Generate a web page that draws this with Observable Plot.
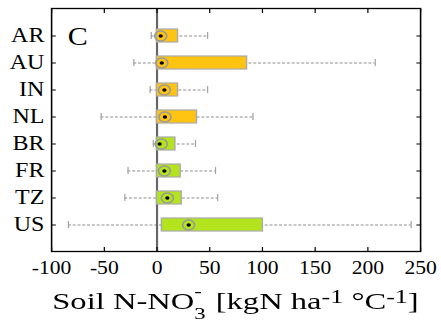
<!DOCTYPE html>
<html><head><meta charset="utf-8">
<script src="https://cdn.jsdelivr.net/npm/d3@7"></script>
<script src="https://cdn.jsdelivr.net/npm/@observablehq/plot@0.6"></script>
<style>
body{margin:0;background:#fff;}
#wrap{width:367.5px;transform:scaleX(1.2);transform-origin:0 0;font-family:"Liberation Serif","Times New Roman",serif;background:#fff;}
#wrap svg{display:block;}
#title{font-size:23px;line-height:23px;height:33px;margin-top:5px;margin-left:25px;text-align:center;white-space:nowrap;color:#000;transform:scaleX(1.18);transform-origin:50% 50%;}
#title .s{position:relative;font-size:0.8em;line-height:0;}
</style></head>
<body><div id="wrap"></div>
<script>
// ---- data ----
const countries = ["AR","AU","IN","NL","BR","FR","TZ","US"];
const groups    = ["a","a","a","a","b","b","b","b"];
const boxLo     = [0, 0, 0, 0, 0, 0, 0, 4.7];
const boxHi     = [20, 85.5, 20, 38, 17.5, 22.5, 23.5, 100.5];
const whiskLo   = [-5.5, -22, -6.5, -53, -3.5, -27.5, -30.5, -84];
const whiskHi   = [48, 207, 48, 91, 36.5, 55.5, 57.5, 241];
const medians   = [3.5, 4.5, 7, 7.5, 2.5, 7, 9.8, 30];
const means     = [3.5, 4.5, 7, 7.5, 4, 7, 9.8, 30];
const xTicks    = [-100, -50, 0, 50, 100, 150, 200, 250];
const panelLabel = "C";

const palette = ["#FFC412", "#B3E41E"];

const rows = countries.map((c, i) => ({
  c, g: groups[i], lo: boxLo[i], hi: boxHi[i], wl: whiskLo[i], wh: whiskHi[i], med: medians[i], mean: means[i]
}));

const noText = () => "";
const chart = Plot.plot({
  width: 367.5, height: 285,
  marginLeft: 42.5, marginRight: 17.5, marginTop: 8, marginBottom: 34,
  style: {fontFamily: "'Liberation Serif', 'Times New Roman', serif", fontSize: "18px", color: "black", background: "white"},
  x: {domain: [-100, 250]},
  y: {type: "band", domain: countries, paddingInner: 0.52, paddingOuter: 0.76},
  color: {domain: ["a", "b"], range: palette},
  marks: [
    Plot.ruleY(rows, {y: "c", x1: "wl", x2: "wh", stroke: "#8f8f8f", strokeWidth: 0.9, strokeDasharray: "2.5,1.5"}),
    Plot.tickX(rows, {x: "wl", y: "c", stroke: "#a0a0a0", strokeWidth: 1, insetTop: 3, insetBottom: 3}),
    Plot.tickX(rows, {x: "wh", y: "c", stroke: "#a0a0a0", strokeWidth: 1, insetTop: 3, insetBottom: 3}),
    Plot.ruleX([0], {stroke: "#666", strokeWidth: 1.8}),
    Plot.barX(rows, {x1: "lo", x2: "hi", y: "c", fill: "g", stroke: "#aaaaaa", strokeWidth: 1.2}),
    Plot.dot(rows, {x: "mean", y: "c", r: 5, stroke: "#999", strokeWidth: 1.4, fill: "none"}),
    Plot.dot(rows, {x: "med", y: "c", r: 1.8, fill: "black", stroke: "none"}),
    Plot.text([panelLabel], {text: d => d, frameAnchor: "top-left", textAnchor: "start", lineAnchor: "top", dx: 13.5, dy: 19, fontSize: 25}),
    Plot.axisX(xTicks, {anchor: "bottom", tickSize: 0, tickPadding: 10, fontSize: 18, tickFormat: d => `${d}`, label: null}),
    Plot.axisX(xTicks, {anchor: "bottom", tickSize: 4, dy: -4, tickFormat: noText, label: null}),
    Plot.axisX(xTicks, {anchor: "top", tickSize: 4, dy: 4, tickFormat: noText, label: null}),
    Plot.axisY({anchor: "left", tickSize: 0, tickPadding: 6, fontSize: 20, label: null}),
    Plot.axisY({anchor: "left", tickSize: 4, dx: 4, tickFormat: noText, label: null}),
    Plot.axisY({anchor: "right", tickSize: 4, dx: -4, tickFormat: noText, label: null}),
    Plot.frame({stroke: "black", strokeWidth: 1.3})
  ]
});

const wrap = document.getElementById("wrap");
wrap.appendChild(chart);
const title = document.createElement("div");
title.id = "title";
title.innerHTML = 'Soil N-NO<span class="s" style="font-size:0.7em;top:0.6em;">3</span><span class="s" style="font-size:0.7em;top:-0.75em;margin-left:-0.5em;margin-right:0.25em;">-</span> [kgN ha<span class="s" style="top:-0.35em;">-1</span> °C<span class="s" style="top:-0.35em;">-1</span>]';
wrap.appendChild(title);
</script>
</body></html>
